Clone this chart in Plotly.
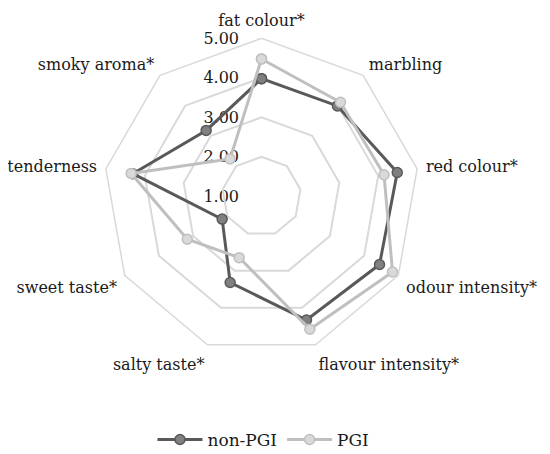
import plotly.graph_objects as go

categories = ["fat colour*", "marbling", "red colour*", "odour intensity*",
              "flavour intensity*", "salty taste*", "sweet taste*",
              "tenderness", "smoky aroma*"]
non_pgi = [3.98, 3.99, 4.49, 4.45, 4.33, 3.32, 2.15, 4.31, 3.18]
pgi = [4.48, 4.11, 4.15, 4.83, 4.58, 2.65, 3.17, 4.35, 2.24]
tick_vals = [1, 2, 3, 4, 5]
tick_text = ["1.00", "2.00", "3.00", "4.00", "5.00"]

FONT = "DejaVu Serif"
FS = 16

fig = go.Figure()
fig.add_trace(go.Scatterpolar(
    r=non_pgi + non_pgi[:1], theta=categories + categories[:1],
    mode="lines+markers", name="non-PGI",
    line=dict(color="#595959", width=3),
    marker=dict(size=10, color="#808080", line=dict(color="#595959", width=1.5)),
))
fig.add_trace(go.Scatterpolar(
    r=pgi + pgi[:1], theta=categories + categories[:1],
    mode="lines+markers", name="PGI",
    line=dict(color="#bfbfbf", width=3),
    marker=dict(size=10, color="#d9d9d9", line=dict(color="#bfbfbf", width=1.5)),
))
# empty helper trace so a cartesian y-axis can carry the radial tick labels on the left
fig.add_trace(go.Scatter(x=[], y=[], showlegend=False, hoverinfo="skip"))

fig.update_layout(
    width=550, height=454,
    margin=dict(l=0, r=0, t=0, b=0, autoexpand=False),
    paper_bgcolor="white",
    plot_bgcolor="rgba(0,0,0,0)",
    font=dict(family=FONT, size=FS, color="#1a1a1a"),
    polar=dict(
        domain=dict(x=[95.5/550, 411.5/550], y=[107.6/454, 423.6/454]),
        bgcolor="rgba(0,0,0,0)",
        gridshape="linear",
        angularaxis=dict(
            rotation=90, direction="clockwise",
            showgrid=False, ticks="outside", ticklen=5, tickcolor="white",
            linecolor="#d9d9d9", linewidth=1.5,
            tickfont=dict(family=FONT, size=FS, color="#1a1a1a"),
        ),
        radialaxis=dict(
            range=[1, 5], angle=90,
            tickvals=tick_vals, showticklabels=False,
            showline=False, ticks="",
            gridcolor="#d9d9d9", gridwidth=1.5,
        ),
    ),
    xaxis=dict(visible=False, domain=[0, 1], automargin=False),
    yaxis=dict(
        range=[1, 5], tickvals=tick_vals, ticktext=tick_text,
        domain=[(454 - 188) / 454, (454 - 30) / 454],
        anchor="free", position=231 / 550, automargin=False,
        showgrid=False, zeroline=False, showline=False, ticks="",
        tickfont=dict(family=FONT, size=FS, color="#1a1a1a"),
    ),
    legend=dict(orientation="h", x=0.4645, xanchor="center", y=0.009, yanchor="bottom",
                itemwidth=45,
                font=dict(family=FONT, size=17, color="#1a1a1a")),
)

fig.write_html("out.html")
